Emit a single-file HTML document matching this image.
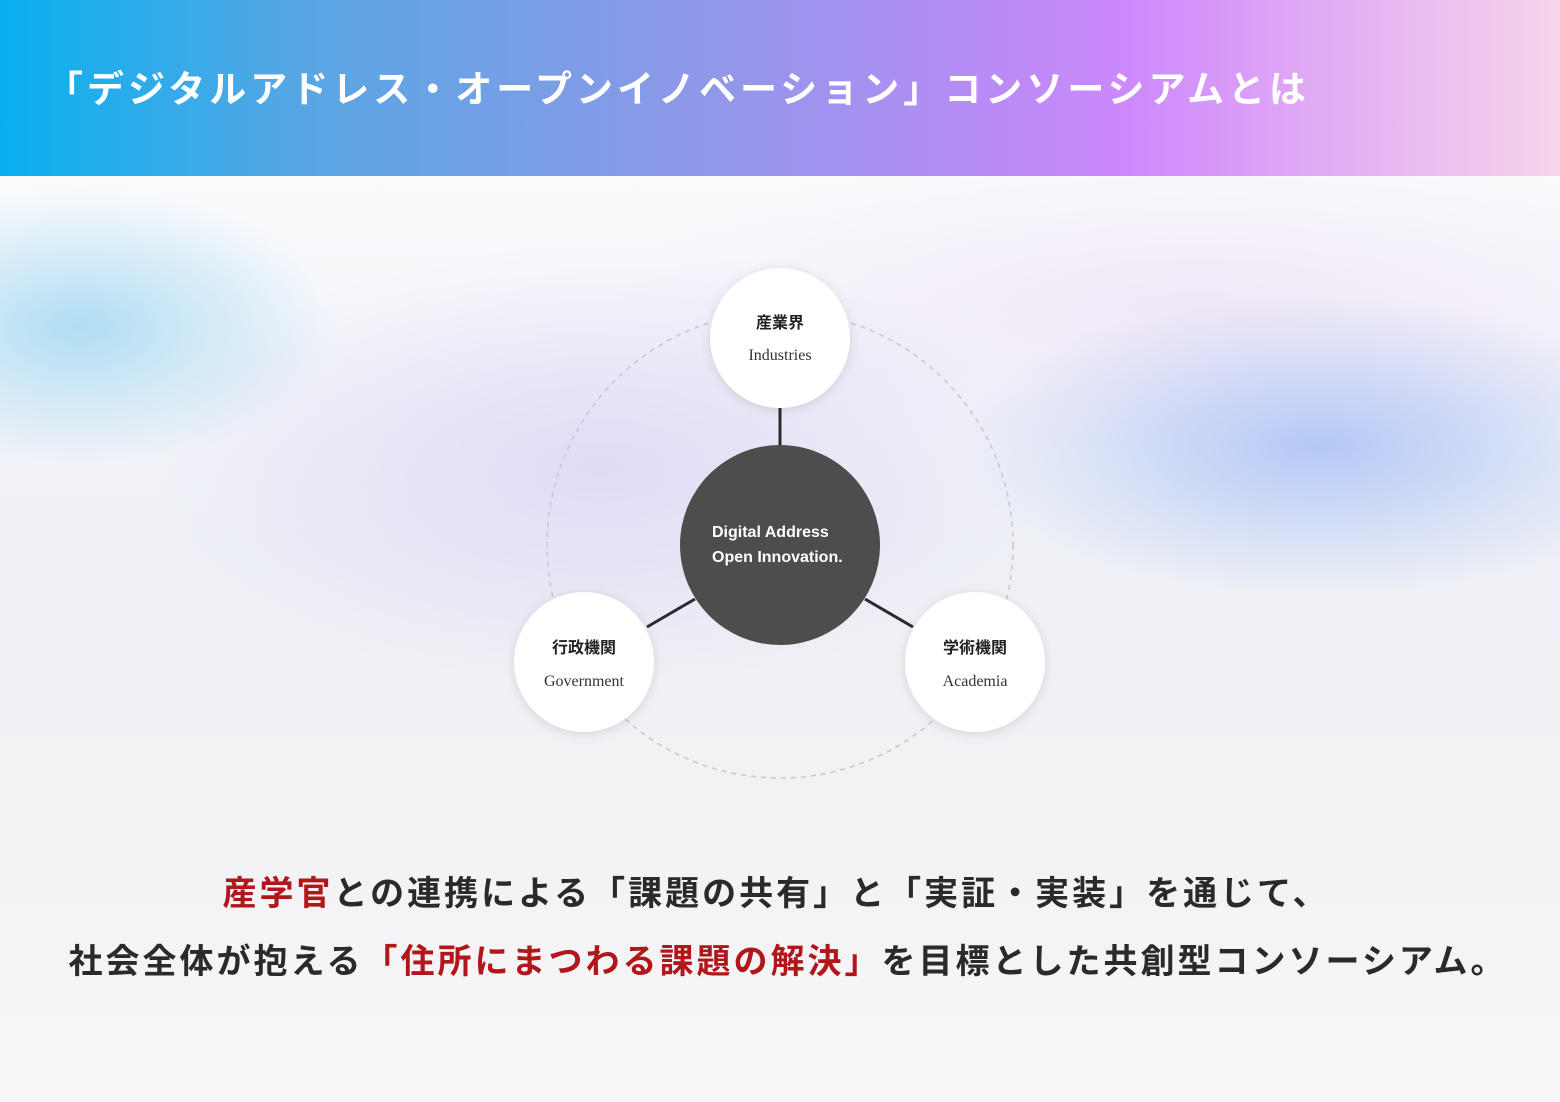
<!DOCTYPE html>
<html><head><meta charset="utf-8"><style>
body{margin:0;width:1560px;height:1102px;overflow:hidden;position:relative;background:#f3f3f5;font-family:"Liberation Sans","Noto Sans CJK JP",sans-serif}
.hdr{position:absolute;left:0;top:0;width:1560px;height:176px;background:linear-gradient(90deg,#08b0ef 0%,#5aa6e4 20%,#8f98e8 45%,#b58cf6 62%,#cc88fc 72%,#e7b4f2 88%,#f6d5ea 100%)}
.hdr h1{position:absolute;left:46px;top:59px;margin:0;color:#fff;font-size:37px;font-weight:bold;letter-spacing:4px;white-space:nowrap;font-family:"Noto Sans CJK JP",sans-serif}
.bg{position:absolute;left:0;top:176px;width:1560px;height:926px;background:
radial-gradient(ellipse 260px 140px at 80px 150px,rgba(130,205,240,.6),rgba(130,205,240,0)),
radial-gradient(ellipse 360px 150px at 1320px 270px,rgba(165,190,245,.8),rgba(165,190,245,0)),
radial-gradient(ellipse 450px 220px at 600px 290px,rgba(215,210,245,.7),rgba(215,210,245,0)),
radial-gradient(ellipse 600px 160px at 1200px 130px,rgba(238,225,246,.7),rgba(238,225,246,0)),
linear-gradient(#fbfbfd 0%,#eef0f6 40%,#f2f2f4 70%,#f7f7f8 100%)}
.txt{position:absolute;left:0;width:1560px;text-align:center;font-size:34px;font-weight:bold;color:#2a2a2a;white-space:nowrap;font-family:"Noto Sans CJK JP",sans-serif;letter-spacing:3px}
.r{color:#b0161a}
</style></head><body>
<div class="hdr"><h1>「デジタルアドレス・オープンイノベーション」コンソーシアムとは</h1></div>
<div class="bg"></div>
<svg style="position:absolute;left:0;top:0" width="1560" height="1102">
<defs><filter id="s" x="-30%" y="-30%" width="160%" height="160%"><feDropShadow dx="0" dy="2" stdDeviation="5" flood-color="#000" flood-opacity="0.12"/></filter></defs>
<circle cx="780" cy="545" r="233" fill="none" stroke="#c8c8cc" stroke-width="1.5" stroke-dasharray="5 5"/>
<line x1="780" y1="408" x2="780" y2="445" stroke="#2a2a30" stroke-width="3"/>
<line x1="647" y1="627" x2="695" y2="599" stroke="#2a2a30" stroke-width="3"/>
<line x1="865" y1="599" x2="913" y2="627" stroke="#2a2a30" stroke-width="3"/>
<circle cx="780" cy="545" r="100" fill="#4d4d4d"/>
<circle cx="780" cy="338" r="70" fill="#fff" filter="url(#s)"/>
<circle cx="584" cy="662" r="70" fill="#fff" filter="url(#s)"/>
<circle cx="975" cy="662" r="70" fill="#fff" filter="url(#s)"/>
<g font-family="Liberation Sans,sans-serif" font-weight="bold" font-size="16" fill="#fff">
<text x="712" y="537">Digital Address</text><text x="712" y="562">Open Innovation.</text></g>
<g font-family="Noto Sans CJK JP,sans-serif" font-weight="bold" font-size="16" fill="#222" text-anchor="middle">
<text x="780" y="328">産業界</text><text x="584" y="653">行政機関</text><text x="975" y="653">学術機関</text></g>
<g font-family="Liberation Serif,serif" font-size="16" fill="#333" text-anchor="middle">
<text x="780" y="360">Industries</text><text x="584" y="686">Government</text><text x="975" y="686">Academia</text></g>
</svg>
<div class="txt" style="top:866px;left:-4px"><span class="r">産学官</span>との連携による「課題の共有」と「実証・実装」を通じて、</div>
<div class="txt" style="top:934px;left:8px">社会全体が抱える<span class="r">「住所にまつわる課題の解決」</span>を目標とした共創型コンソーシアム。</div>
</body></html>
